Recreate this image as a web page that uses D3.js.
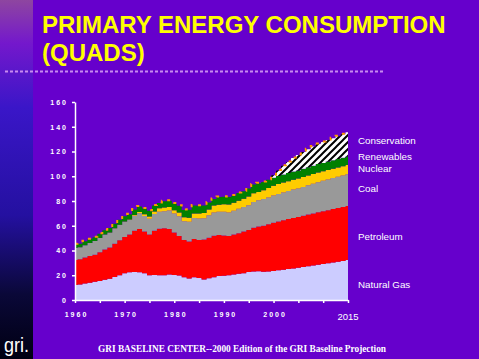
<!DOCTYPE html>
<html>
<head>
  <meta charset="utf-8">
  <title>Primary Energy Consumption</title>
  <script src="https://d3js.org/d3.v7.min.js"></script>
  <style>
    body { margin: 0; background: #6600CC; }
  </style>
</head>
<body>

  <svg width="479" height="359"></svg>

  <script>

    // Years 1960 - 2015 (history to 1999, GRI projection after)
    const years = d3.range(1960, 2016);

    const naturalGas = [12.1, 12.6, 13.3, 13.9, 14.7, 15.3, 16.4, 17.2, 18.6, 20.0,
      21.6, 22.4, 22.6, 22.5, 21.7, 19.9, 20.3, 19.9, 20.0, 20.7,
      20.3, 19.8, 18.4, 17.3, 18.4, 17.7, 16.6, 17.6, 18.4, 19.4,
      19.6, 20.0, 20.7, 21.2, 21.7, 22.7, 23.1, 23.2, 22.8, 23.0,
      23.5, 24.0, 24.5, 25.0, 25.5, 26.1, 26.7, 27.3, 27.9, 28.5,
      29.1, 29.7, 30.3, 30.9, 31.6, 32.3];

    const petroleum = [20.2, 20.4, 21.1, 21.7, 21.9, 23.2, 24.4, 25.2, 26.9, 28.3,
      29.4, 30.6, 33.4, 34.8, 33.6, 33.1, 35.7, 37.6, 38.0, 36.6,
      34.2, 32.0, 30.0, 30.0, 30.9, 30.8, 32.2, 32.8, 33.6, 33.1,
      32.6, 31.8, 32.3, 32.8, 33.6, 33.8, 35.2, 36.1, 37.2, 38.3,
      39.0, 39.5, 40.0, 40.4, 40.8, 41.0, 41.3, 41.7, 42.1, 42.4,
      42.6, 42.9, 43.2, 43.4, 43.6, 43.7];

    const coal = [9.8, 9.6, 9.9, 10.4, 11.0, 11.6, 12.1, 12.0, 12.3, 12.4,
      12.3, 11.6, 12.1, 12.9, 12.6, 12.6, 13.5, 13.9, 13.7, 15.0,
      15.4, 15.9, 15.3, 15.9, 17.0, 17.4, 17.2, 18.0, 18.8, 18.9,
      19.1, 18.9, 19.1, 19.8, 19.9, 20.0, 20.9, 21.4, 21.6, 21.6,
      22.0, 22.2, 22.4, 22.6, 22.9, 23.1, 23.4, 23.7, 24.0, 24.3,
      24.6, 24.8, 25.0, 25.2, 25.4, 25.6];

    const nuclear = [0.0, 0.0, 0.0, 0.0, 0.0, 0.0, 0.1, 0.1, 0.1, 0.2,
      0.2, 0.4, 0.6, 0.9, 1.3, 1.9, 2.1, 2.7, 3.0, 2.8,
      2.7, 3.0, 3.1, 3.2, 3.6, 4.1, 4.4, 4.8, 5.6, 5.6,
      6.1, 6.4, 6.5, 6.4, 6.7, 7.1, 7.1, 6.6, 7.1, 7.6,
      7.9, 8.0, 8.0, 8.0, 8.0, 7.9, 7.9, 7.9, 7.8, 7.8,
      7.7, 7.7, 7.6, 7.6, 7.5, 7.4];

    const renewables = [2.9, 2.9, 3.1, 3.1, 3.2, 3.4, 3.4, 3.6, 3.8, 4.0,
      4.1, 4.3, 4.4, 4.4, 4.8, 4.7, 4.7, 4.2, 5.0, 5.2,
      5.4, 5.5, 6.0, 6.5, 6.5, 6.1, 6.0, 5.6, 5.3, 6.3,
      6.0, 6.1, 5.8, 6.2, 6.0, 6.6, 7.0, 7.0, 6.6, 6.6,
      6.4, 6.5, 6.5, 6.6, 6.6, 6.6, 6.7, 6.7, 6.7, 6.8,
      6.8, 6.8, 6.8, 6.9, 6.9, 6.9];

    const conservation = [0, 0, 0, 0, 0, 0, 0, 0, 0, 0,
      0, 0, 0, 0, 0, 0, 0, 0, 0, 0,
      0, 0, 0, 0, 0, 0, 0, 0, 0, 0,
      0, 0, 0, 0, 0, 0, 0, 0, 0, 0,
      2.0, 4.5, 7.0, 9.0, 11.0, 12.5, 13.5, 14.5, 15.5, 16.2,
      16.8, 17.3, 17.8, 18.4, 19.0, 19.6];

    const seriesNames = ["Natural Gas", "Petroleum", "Coal", "Nuclear", "Renewables", "Conservation"];
    // where each series name sits on the value axis at the right of the chart
    const labelValues = [12.5, 51, 90, 106, 116, 129];

    const yTicks = [0, 20, 40, 60, 80, 100, 120, 140, 160];
    const xTicks = d3.range(1960, 2016, 5);
    const xTickLabels = [1960, 1970, 1980, 1990, 2000];
    const endYear = 2015;

    const colors = ["#CCCCFF", "#FF0000", "#999999", "#FFCC00", "#008000", "url(#hatch)"];

    // table for d3.stack
    const table = years.map((yr, i) => ({
      year: yr,
      "Natural Gas": naturalGas[i],
      "Petroleum": petroleum[i],
      "Coal": coal[i],
      "Nuclear": nuclear[i],
      "Renewables": renewables[i],
      "Conservation": conservation[i]
    }));

    const width = 479;
    const height = 359;

    const svg = d3.select("svg")
      .attr("width", width)
      .attr("height", height)
      .style("font-family", "'Liberation Sans', Arial, sans-serif");

    const defs = svg.append("defs");

    // left side bar gradient
    const grad = defs.append("linearGradient")
      .attr("id", "sidebar")
      .attr("x1", 0).attr("y1", 0).attr("x2", 0).attr("y2", 1);
    grad.append("stop").attr("offset", "0%").attr("stop-color", "#8E46A0");
    grad.append("stop").attr("offset", "12%").attr("stop-color", "#7418CC");
    grad.append("stop").attr("offset", "30%").attr("stop-color", "#3A16C8");
    grad.append("stop").attr("offset", "60%").attr("stop-color", "#2410A0");
    grad.append("stop").attr("offset", "82%").attr("stop-color", "#0A0838");
    grad.append("stop").attr("offset", "100%").attr("stop-color", "#000012");

    // hatch for conservation
    const hatch = defs.append("pattern")
      .attr("id", "hatch")
      .attr("patternUnits", "userSpaceOnUse")
      .attr("width", 7)
      .attr("height", 7);
    hatch.append("rect").attr("width", 7).attr("height", 7).attr("fill", "#FFFFFF");
    hatch.append("path")
      .attr("d", "M0,7 L7,0 M-1,1 L1,-1 M6,8 L8,6")
      .attr("stroke", "#000000")
      .attr("stroke-width", 2);

    // background
    svg.append("rect")
      .attr("width", width)
      .attr("height", height)
      .attr("fill", "#6600CC");

    svg.append("rect")
      .attr("width", 33)
      .attr("height", height)
      .attr("fill", "url(#sidebar)");

    // title
    const title = svg.append("g")
      .attr("fill", "#FFFF00")
      .attr("font-weight", "bold")
      .attr("font-size", 24);
    title.append("text").attr("x", 42).attr("y", 33).text("PRIMARY ENERGY CONSUMPTION");
    title.append("text").attr("x", 42).attr("y", 61).text("(QUADS)");

    svg.append("line")
      .attr("x1", 5).attr("x2", 383)
      .attr("y1", 71.5).attr("y2", 71.5)
      .attr("stroke", "#C88CF0")
      .attr("stroke-width", 2)
      .attr("stroke-dasharray", "3,2");

    // scales
    const x = d3.scaleLinear()
      .domain([1960, 2015])
      .range([75, 348]);

    const y = d3.scaleLinear()
      .domain([0, 160])
      .range([300, 102]);

    const stack = d3.stack().keys(seriesNames);
    const layers = stack(table);

    const area = d3.area()
      .curve(d3.curveStep)
      .x(d => x(d.data.year))
      .y0(d => y(d[0]))
      .y1(d => y(d[1]));

    svg.append("g")
      .selectAll("path")
      .data(layers)
      .join("path")
        .attr("d", area)
        .attr("fill", (d, i) => colors[i]);

    // orange dashed outline along the top of the stack
    const topLine = d3.line()
      .curve(d3.curveStep)
      .x(d => x(d.data.year))
      .y(d => y(d[1]) - 0.5);

    svg.append("path")
      .datum(layers[layers.length - 1])
      .attr("d", topLine)
      .attr("fill", "none")
      .attr("stroke", "#FF9900")
      .attr("stroke-width", 2)
      .attr("stroke-dasharray", "3,6");

    // axes
    const yAxis = svg.append("g")
      .attr("transform", "translate(75,0)")
      .call(d3.axisLeft(y).tickValues(yTicks).tickSize(3).tickSizeOuter(0).tickPadding(6));

    const xAxis = svg.append("g")
      .attr("transform", "translate(0,300)")
      .call(d3.axisBottom(x).tickValues(xTicks).tickSize(3).tickSizeOuter(0)
        .tickFormat(d => xTickLabels.includes(d) ? d : "").tickPadding(9));

    [yAxis, xAxis].forEach(ax => {
      ax.select(".domain").attr("stroke", "#FFFFFF").attr("stroke-width", 1.5);
      ax.selectAll(".tick line").attr("stroke", "#FFFFFF").attr("stroke-width", 1.5);
      ax.selectAll(".tick text")
        .attr("fill", "#FFFFFF")
        .attr("font-family", "'Liberation Sans', Arial, sans-serif")
        .attr("font-weight", "bold")
        .attr("font-size", 7)
        .style("letter-spacing", "2px");
    });
    yAxis.selectAll(".tick text").attr("dx", 2);
    xAxis.selectAll(".tick text").attr("dx", 1);

    svg.append("text")
      .attr("x", x(endYear))
      .attr("y", 320)
      .attr("text-anchor", "middle")
      .attr("fill", "#FFFFFF")
      .attr("font-size", 9.5)
      .text(endYear);

    // series labels on the right
    svg.append("g")
      .selectAll("text")
      .data(seriesNames)
      .join("text")
        .attr("x", 358)
        .attr("y", (d, i) => y(labelValues[i]))
        .attr("dy", "0.35em")
        .attr("fill", "#FFFFFF")
        .attr("font-size", 9.8)
        .text(d => d);

    // logo and source line
    svg.append("text")
      .attr("x", 4)
      .attr("y", 352)
      .attr("fill", "#FFFFFF")
      .attr("font-family", "'Liberation Sans Narrow', 'Liberation Sans', sans-serif")
      .attr("font-size", 20)
      .attr("textLength", 25)
      .attr("lengthAdjust", "spacingAndGlyphs")
      .text("gri.");

    svg.append("text")
      .attr("x", 98)
      .attr("y", 352)
      .attr("fill", "#FFFFFF")
      .attr("font-family", "'Liberation Serif', 'Times New Roman', serif")
      .attr("font-weight", "bold")
      .attr("font-size", 10)
      .attr("textLength", 288)
      .attr("lengthAdjust", "spacingAndGlyphs")
      .text("GRI BASELINE CENTER--2000 Edition of the GRI Baseline Projection");

  </script>

</body>
</html>
